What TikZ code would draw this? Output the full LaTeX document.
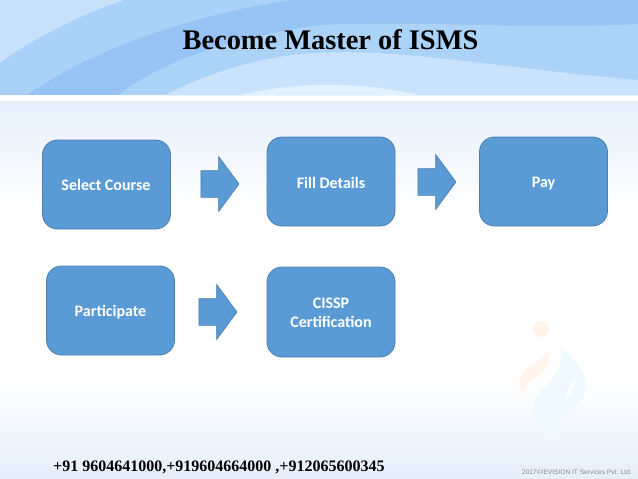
\documentclass[tikz,border=0pt]{standalone}
\usepackage{fontspec}
\setmainfont{Liberation Serif}
\newfontfamily\boxfont{Carlito}
\newfontfamily\footfont{Liberation Sans}
\usetikzlibrary{shapes.arrows}
\definecolor{boxblue}{HTML}{5B9BD5}
\definecolor{boxline}{HTML}{4A7FAF}
\definecolor{swA}{HTML}{C6E1FA}
\definecolor{swB}{HTML}{AAD2F8}
\definecolor{swC}{HTML}{97C4F4}
\definecolor{swD}{HTML}{ABD3F8}
\definecolor{swE}{HTML}{C8E3FB}
\definecolor{swF}{HTML}{E2F1FD}
\definecolor{paleblue}{HTML}{E5EFFA}
\tikzset{
  stepbox/.style={draw=boxline,line width=0.8pt,fill=boxblue,rounded corners=15pt,minimum width=128pt,minimum height=89pt,inner sep=0pt,outer sep=0pt},
  boxtext/.style={text=white,font=\boxfont\bfseries\fontsize{16}{19}\selectfont,align=center,inner sep=0pt},
  blockarrow/.style={draw=boxline,line width=0.7pt,fill=boxblue,single arrow,single arrow head extend=14pt,single arrow tip angle=107,single arrow head indent=0pt,minimum height=38pt,inner sep=0pt,outer sep=0pt,shape border rotate=0}
}
\newcommand{\shaft}{\rule{0pt}{26pt}}
\begin{document}
\begin{tikzpicture}[x=1pt,y=-1pt]
\useasboundingbox (0,0) rectangle (638,479);
% background
\fill[white] (0,0) rectangle (638,479);
\shade[top color=paleblue,bottom color=white] (0,101) rectangle (638,205);
\shade[top color=white,bottom color=paleblue] (0,380) rectangle (638,479);
% banner
\fill[swC] (0,0) rectangle (638,95);
\fill[swA] (0,0) -- (0,63) .. controls (35,38) and (80,15) .. (125,0) -- cycle;
\fill[swB] (0,63) .. controls (35,38) and (80,15) .. (125,0) -- (290,0) .. controls (190,15) and (90,50) .. (27,95) -- (0,95) -- cycle;
\fill[swD] (118,95) .. controls (170,55) and (250,35) .. (320,25) .. controls (420,20) and (530,30) .. (638,24) -- (638,95) -- cycle;
\fill[swE] (165,95) .. controls (210,72) and (265,55) .. (318,53) .. controls (400,48) and (500,68) .. (638,80) -- (638,95) -- cycle;
\fill[swF] (240,95) .. controls (270,88) and (300,85) .. (320,85) .. controls (360,84) and (400,90) .. (418,95) -- cycle;
% logo
\fill[orange!9] (541,329) circle (8);
\fill[orange!8] (548,350) .. controls (551,362) and (545,372) .. (535,378) .. controls (526,384) and (523,390) .. (523,397) .. controls (517,385) and (518,375) .. (528,368) .. controls (537,362) and (545,356) .. (548,350) -- cycle;
\fill[cyan!7] (561,348) .. controls (580,362) and (591,380) .. (583,397) .. controls (578,408) and (562,412) .. (556,424) .. controls (551,434) and (556,432) .. (560,443) .. controls (545,440) and (531,420) .. (534,402) .. controls (537,388) and (566,378) .. (561,348) -- cycle;
\fill[white] (575,378) .. controls (575,385) and (572,392) .. (566,398) .. controls (567,390) and (571,384) .. (575,378) -- cycle;
% boxes
\node[stepbox] (select) at (106.5,184.5) {};
\node[stepbox] (fill) at (331,181.5) {};
\node[stepbox] (pay) at (543.5,181.5) {};
\node[stepbox] (part) at (110.5,310.5) {};
\node[stepbox,minimum height=90pt] (cissp) at (331,312) {};
\node[boxtext] (tselect) at (106,185) {Select Course};
\node[boxtext] (tfill) at (331,183) {Fill Details};
\node[boxtext] (tpay) at (543.5,184) {Pay};
\node[boxtext] (tpart) at (110.5,312) {Participate};
\node[boxtext] (tcissp) at (331,313) {CISSP\\Certification};
% block arrows
\node[blockarrow] (a1) at (215,184) {\shaft};
\node[blockarrow] (a2) at (432,182) {\shaft};
\node[blockarrow] (a3) at (213,312) {\shaft};
% texts
\node[inner sep=0pt,font=\bfseries\fontsize{28.4}{32}\selectfont,text=black] (title) at (330.5,40) {Become Master of ISMS};
\node[inner sep=0pt,anchor=base west,font=\bfseries\fontsize{16}{18}\selectfont,text=black] (phone) at (53,471) {+91 9604641000,+919604664000 ,+912065600345};
\node[inner sep=0pt,anchor=base east,font=\footfont\fontsize{6.6}{8}\selectfont,text=black!45] (foot) at (632,474.5) {2017©IEVISION IT Services Pvt. Ltd.};
\end{tikzpicture}
\end{document}
